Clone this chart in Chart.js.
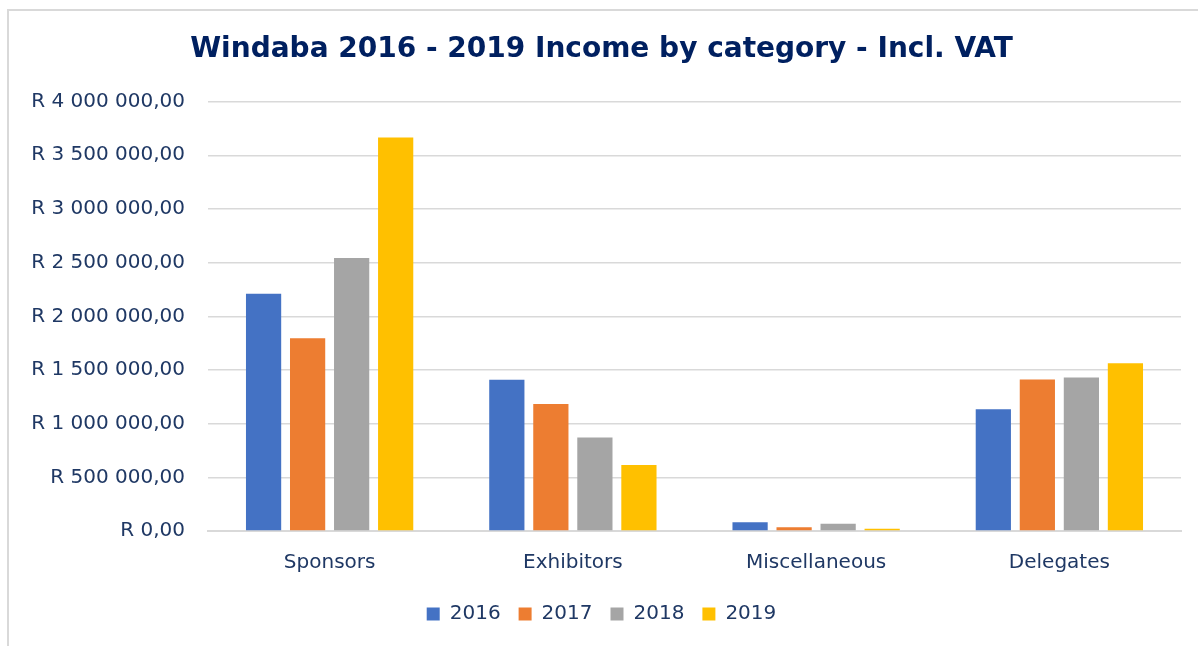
<!DOCTYPE html>
<html>
<head>
  <title>Windaba income</title>
  <script src="https://cdn.jsdelivr.net/npm/chart.js"></script>
  <style>
    html, body { margin: 0; background: #fff; overflow: hidden; }
    #wrap { position: absolute; left: 0; top: 0; width: 1198px; height: 646px; }
  </style>
</head>
<body>
  <div id="wrap"><canvas id="incomeChart"></canvas></div>

<script>
// categories and yearly income (Rand, incl. VAT)
let categories = ['Sponsors', 'Exhibitors', 'Miscellaneous', 'Delegates'];
let years = ['2016', '2017', '2018', '2019'];
let income2016 = [2210000, 1410000, 82000, 1133000];
let income2017 = [1795000, 1182000, 35000, 1412000];
let income2018 = [2543000, 872000, 67000, 1431000];
let income2019 = [3666000, 614000, 20000, 1562000];
let colours = ['#4472C4', '#ED7D31', '#A5A5A5', '#FFC000'];

let navy = '#1F3864';

// "R 1 500 000,00" style
function rand(v) {
  let s = Math.round(v).toString().replace(/\B(?=(\d{3})+(?!\d))/g, ' ');
  return 'R ' + s + ',00';
}

let series = [income2016, income2017, income2018, income2019];
let datasets = series.map(function (vals, i) {
  return {
    label: years[i],
    data: vals,
    backgroundColor: colours[i],
    borderWidth: 0,
    categoryPercentage: 0.724,
    barPercentage: 0.8
  };
});

// light grey frame along the top and left edge, like the pasted chart box
let framePlugin = {
  id: 'frame',
  beforeDraw: function (chart) {
    let ctx = chart.ctx;
    ctx.save();
    ctx.strokeStyle = '#d9d9d9';
    ctx.lineWidth = 2;
    ctx.beginPath();
    ctx.moveTo(8, chart.height);
    ctx.lineTo(8, 10);
    ctx.lineTo(chart.width, 10);
    ctx.stroke();
    ctx.restore();
  }
};

let options = {
  type: 'bar',
  data: { labels: categories, datasets: datasets },
  plugins: [framePlugin],
  options: {
    responsive: true,
    maintainAspectRatio: false,
    animation: false,
    layout: { padding: { left: 22, right: 17, top: 0, bottom: 12 } },
    plugins: {
      title: {
        display: true,
        text: 'Windaba 2016 - 2019 Income by category - Incl. VAT',
        color: '#002060',
        font: { family: 'DejaVu Sans', size: 28, weight: 'bold' },
        padding: { top: 33, bottom: 35 }
      },
      legend: {
        position: 'bottom',
        labels: {
          color: navy,
          font: { family: 'DejaVu Sans', size: 20 },
          boxWidth: 13,
          boxHeight: 13,
          padding: 18
        }
      },
      tooltip: { enabled: false }
    },
    scales: {
      x: {
        grid: { display: false },
        border: { color: '#d9d9d9', width: 2 },
        ticks: { color: navy, font: { family: 'DejaVu Sans', size: 20 }, padding: 12 },
        afterFit: function (axis) { axis.height = 55; }
      },
      y: {
        min: 0,
        max: 4000000,
        ticks: {
          stepSize: 500000,
          color: navy,
          font: { family: 'DejaVu Sans', size: 20 },
          padding: 23,
          callback: function (v) { return rand(v); }
        },
        grid: { color: '#d9d9d9', lineWidth: 1.5, drawTicks: false },
        border: { display: false },
        afterFit: function (axis) { axis.width = 186; }
      }
    }
  }
};

let chart = new Chart(document.getElementById('incomeChart'), options);
</script>
</body>
</html>
